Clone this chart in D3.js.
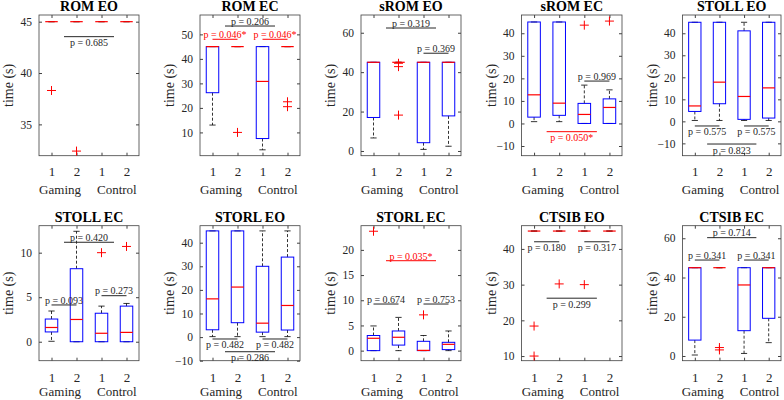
<!DOCTYPE html>
<html><head><meta charset="utf-8">
<script src="https://cdn.jsdelivr.net/npm/d3@7"></script>
<style>body{margin:0;background:#fff} svg{display:block} text{font-family:"Liberation Serif","Times New Roman",serif}</style>
</head><body><svg id="c" width="784" height="400"></svg>
<script>
const titles = ["ROM EO","ROM EC","sROM EO","sROM EC","STOLL EO","STOLL EC","STORL EO","STORL EC","CTSIB EO","CTSIB EC"];
const groupTicks = ["1","2","1","2"];
const groupNames = ["Gaming","Control"];
const yLimits = [[31.95,45.65],[0.5,57.9],[-2.4,69],[-14.3,48.1],[-15.6,48.3],[-2.13,13.03],[-10,47.2],[-2,24.8],[8.7,46.5],[-2.4,66.4]];
const yTicks = [[35,40,45],[10,20,30,40,50],[0,20,40,60],[-10,0,10,20,30,40],[-10,0,10,20,30,40],[0,5,10],[-10,0,10,20,30,40],[0,5,10,15,20],[10,20,30,40],[0,20,40,60]];

// box stats per group: [lower whisker, q1, median, q3, upper whisker]
const romEO   = [[45,45,45,45,45],[45,45,45,45,45],[45,45,45,45,45],[45,45,45,45,45]];
const romEC   = [[13,26.2,45,45,45],[45,45,45,45,45],[2.9,7.5,30.8,45,45],[45,45,45,45,45]];
const sromEO  = [[6.6,17,45,45,45],[45,45,45,45,45],[0.8,4.2,45,45,45],[2.4,17.8,45,45,45]];
const sromEC  = [[0.8,2.8,12.7,45,45],[0.8,3.6,9,45,45],[0,0,4,8.9,17],[0,0,7.1,10.9,14.9]];
const stollEO = [[0.4,4.5,7,45,45],[0.4,8,17.8,45,45],[0.4,0.9,11.3,41.1,45],[0.4,1.5,15.2,45,45]];
const stollEC = [[0.05,1.1,1.6,2.55,3.45],[0,0,2.5,8.2,12.4],[0,0,0.95,3.2,4.0],[0,0,1.05,4.0,4.3]];
const storlEO = [[0.2,3.1,16.2,45,45],[0.2,6.1,21.2,45,45],[0.2,2.1,5.9,30,45],[0.2,3,13.4,33.9,45]];
const storlEC = [[0,0,2.45,3,4.9],[0,1.1,2.65,3.9,6.6],[0,0,0.05,1.85,3],[0,0.2,1.25,1.65,3.9]];
const ctsibEO = [[45,45,45,45,45],[45,45,45,45,45],[45,45,45,45,45],[45,45,45,45,45]];
const ctsibEC = [[0.5,8.1,45,45,45],[45,45,45,45,45],[1.3,12.9,36.2,45,45],[6.8,19.2,45,45,45]];

// outliers per group
const romEOout   = [[38.3],[32.4],[],[]];
const romECout   = [[],[10],[],[22.5,20.5]];
const sromEOout  = [[],[44.5,42.8,18.2],[],[]];
const sromECout  = [[],[],[43.6],[45.4]];
const stollEOout = [[],[],[],[]];
const stollECout = [[],[],[10],[10.7]];
const storlEOout = [[],[],[],[]];
const storlECout = [[23.7],[],[7.1],[]];
const ctsibEOout = [[18.4,10],[30.2],[30],[]];
const ctsibECout = [[],[4.3,3.1],[],[]];

// significance annotations: [x1, x2, y, label, significant, text above/below]
const romEOp   = [[1.5,3.5,43.54,"p = 0.685",0,"b"]];
const romECp   = [[1.5,3.5,53.4,"p = 0.206",0,"a"],[1,2,48,"p = 0.046*",1,"a"],[3,4,48,"p = 0.046*",1,"a"]];
const sromEOp  = [[1.5,3.5,62.4,"p = 0.319",0,"a"],[3,4,49.6,"p = 0.369",0,"a"]];
const sromECp  = [[3,4,18.8,"p = 0.969",0,"a"],[1.5,3.5,-3.65,"p = 0.050*",1,"b"]];
const stollEOp = [[1,2,-2.1,"p = 0.575",0,"b"],[3,4,-2.1,"p = 0.575",0,"b"],[1.5,3.5,-10.3,"p = 0.823",0,"b"]];
const stollECp = [[1.5,3.5,11.17,"p = 0.420",0,"a"],[1,2,4.13,"p = 0.093",0,"a"],[3,4,5.17,"p = 0.273",0,"a"]];
const storlEOp = [[1,2,-0.8,"p = 0.482",0,"b"],[3,4,-0.8,"p = 0.482",0,"b"],[1.5,3.5,-6.2,"p = 0.286",0,"b"]];
const storlECp = [[1.5,3.5,17.85,"p = 0.035*",1,"a"],[1,2,9.25,"p = 0.674",0,"a"],[3,4,9.25,"p = 0.753",0,"a"]];
const ctsibEOp = [[1,2,42,"p = 0.180",0,"b"],[3,4,42,"p = 0.317",0,"b"],[1.5,3.5,26.2,"p = 0.299",0,"b"]];
const ctsibECp = [[1.5,3.5,60.3,"p = 0.714",0,"a"],[1,2,48.9,"p = 0.341",0,"a"],[3,4,48.9,"p = 0.341",0,"a"]];

const boxes = [romEO,romEC,sromEO,sromEC,stollEO,stollEC,storlEO,storlEC,ctsibEO,ctsibEC];
const outs = [romEOout,romECout,sromEOout,sromECout,stollEOout,stollECout,storlEOout,storlECout,ctsibEOout,ctsibECout];
const pAnn = [romEOp,romECp,sromEOp,sromECp,stollEOp,stollECp,storlEOp,storlECp,ctsibEOp,ctsibECp];

// layout
const colLeft = [39, 200, 361, 521.5, 682.5];
const colW = [100, 100, 100, 100.5, 98.5];
const rowTop = [15, 225.7];
const rowBot = [155.7, 360.7];
const tickLabDy = [20.5, 21.5];
const groupDy = [38, 35.5];

const svg = d3.select("#c");
const RED = "#ff0000", BLUE = "#0000ff", AX = "#404040";

boxes.forEach((stats, i) => {
  const r = Math.floor(i / 5), c = i % 5;
  const L = colLeft[c], R = L + colW[c], T = rowTop[r], B = rowBot[r];
  const x = d3.scaleLinear().domain([0.5, 4.5]).range([L, R]);
  const y = d3.scaleLinear().domain(yLimits[i]).range([B, T]);
  const g = svg.append("g");

  // frame
  g.append("rect").attr("x", L).attr("y", T).attr("width", R - L).attr("height", B - T)
    .attr("fill", "#fff").attr("stroke", AX).attr("stroke-width", 0.8);

  // y axis (left, ticks inward) using d3 axis
  const ya = d3.axisLeft(y).tickValues(yTicks[i]).tickSize(-3).tickPadding(7).tickFormat(d3.format("d"));
  const yg = g.append("g").attr("transform", `translate(${L},0)`).call(ya);
  yg.select(".domain").remove();
  yg.selectAll("line").attr("stroke", AX);
  yg.selectAll("text").attr("font-size", 11.5).attr("fill", "#262626").style("font-family", '"Liberation Serif",serif');
  const yr = d3.axisRight(y).tickValues(yTicks[i]).tickSize(-3).tickFormat("");
  const yrg = g.append("g").attr("transform", `translate(${R},0)`).call(yr);
  yrg.select(".domain").remove(); yrg.selectAll("line").attr("stroke", AX);

  // x axis
  const xa = d3.axisBottom(x).tickValues([1,2,3,4]).tickSize(-3).tickPadding(0).tickFormat((d, k) => groupTicks[k]);
  const xg = g.append("g").attr("transform", `translate(0,${B})`).call(xa);
  xg.select(".domain").remove();
  xg.selectAll("line").attr("stroke", AX);
  xg.selectAll("text").attr("y", tickLabDy[r]).attr("dy", null).attr("font-size", 13).attr("fill", "#262626").style("font-family", '"Liberation Serif",serif');
  const xt = d3.axisTop(x).tickValues([1,2,3,4]).tickSize(-3).tickFormat("");
  const xtg = g.append("g").attr("transform", `translate(0,${T})`).call(xt);
  xtg.select(".domain").remove(); xtg.selectAll("line").attr("stroke", AX);

  // group names
  const mid = (L + R) / 2;
  g.append("text").attr("x", mid - 8).attr("y", B + groupDy[r]).attr("text-anchor", "end")
    .attr("font-size", 13).attr("fill", "#262626").text(groupNames[0]);
  g.append("text").attr("x", mid + 8).attr("y", B + groupDy[r]).attr("text-anchor", "start")
    .attr("font-size", 13).attr("fill", "#262626").text(groupNames[1]);

  // y label
  g.append("text").attr("transform", `translate(${L - 26},${(T + B) / 2}) rotate(-90)`)
    .attr("text-anchor", "middle")
    .attr("font-size", 14).attr("fill", "#262626").text("time (s)");

  // title
  g.append("text").attr("x", mid).attr("y", T - 4).attr("text-anchor", "middle")
    .attr("font-size", 14).attr("font-weight", "bold").attr("fill", "#000").text(titles[i]);

  // boxes
  const hw = 0.25, cw = 0.125;
  stats.forEach((s, k) => {
    const p = k + 1;
    const [lo, q1, med, q3, hi] = s;
    g.append("line").attr("x1", x(p)).attr("x2", x(p)).attr("y1", y(q3)).attr("y2", y(hi))
      .attr("stroke", "#000").attr("stroke-width", 0.8).attr("stroke-dasharray", "3,2");
    g.append("line").attr("x1", x(p)).attr("x2", x(p)).attr("y1", y(q1)).attr("y2", y(lo))
      .attr("stroke", "#000").attr("stroke-width", 0.8).attr("stroke-dasharray", "3,2");
    [lo, hi].forEach(v => g.append("line").attr("x1", x(p - cw)).attr("x2", x(p + cw))
      .attr("y1", y(v)).attr("y2", y(v)).attr("stroke", "#000").attr("stroke-width", 0.8));
    g.append("rect").attr("x", x(p - hw)).attr("width", x(p + hw) - x(p - hw))
      .attr("y", y(q3)).attr("height", Math.max(0, y(q1) - y(q3)))
      .attr("fill", "none").attr("stroke", BLUE).attr("stroke-width", 1);
    g.append("line").attr("x1", x(p - hw)).attr("x2", x(p + hw)).attr("y1", y(med)).attr("y2", y(med))
      .attr("stroke", RED).attr("stroke-width", 1.2);
    outs[i][k].forEach(v => {
      const cx = x(p), cy = y(v), h = 4.5;
      g.append("path").attr("d", `M${cx - h},${cy}H${cx + h}M${cx},${cy - h}V${cy + h}`)
        .attr("stroke", RED).attr("stroke-width", 1).attr("fill", "none");
    });
  });

  // annotations
  pAnn[i].forEach(a => {
    const [x1, x2, yv, label, sig, pos] = a;
    const col = sig ? RED : "#262626";
    const yy = y(yv);
    g.append("line").attr("x1", x(x1)).attr("x2", x(x2)).attr("y1", yy).attr("y2", yy)
      .attr("stroke", col).attr("stroke-width", 1);
    g.append("text").attr("x", x((x1 + x2) / 2)).attr("y", pos === "a" ? yy - 1.2 : yy + 9.5)
      .attr("text-anchor", "middle").attr("font-size", 10).attr("fill", col).text(label);
  });
});
</script></body></html>
